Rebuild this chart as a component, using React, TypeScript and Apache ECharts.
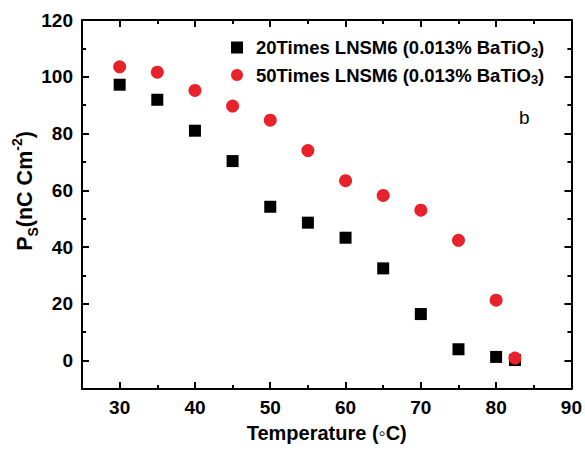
import React, { useEffect, useRef } from "react";
import * as echarts from "echarts";

const temps20 = [30, 35, 40, 45, 50, 55, 60, 65, 70, 75, 80, 82.5];
const ps20 = [97.2, 91.9, 81.0, 70.3, 54.2, 48.6, 43.3, 32.5, 16.4, 4.0, 1.3, 0.2];
const temps50 = [30, 35, 40, 45, 50, 55, 60, 65, 70, 75, 80, 82.5];
const ps50 = [103.5, 101.6, 95.2, 89.7, 84.7, 74.0, 63.4, 58.2, 53.0, 42.4, 21.3, 0.9];
const xMajor = [30, 40, 50, 60, 70, 80, 90];
const yMajor = [0, 20, 40, 60, 80, 100, 120];
const seriesNames = ["20Times LNSM6 (0.013% BaTiO3)", "50Times LNSM6 (0.013% BaTiO3)"];

const FONT = 'Arial, "Liberation Sans", Helvetica, sans-serif';

export default function App() {
  const ref = useRef<HTMLDivElement>(null);
  useEffect(() => {
    if (!ref.current) return;
    const chart = echarts.init(ref.current, undefined, { renderer: "svg" });
    const lineStyle = { color: "#000", width: 2 };
    const tick = { show: true, inside: true, length: 7, lineStyle: { color: "#000", width: 2 } };
    const minor = { show: true, splitNumber: 2, length: 4, lineStyle: { color: "#000", width: 2 } };
    const labelStyle = { color: "#000", fontFamily: FONT, fontWeight: "bold", fontSize: 19, margin: 9 };
    const mkX = (pos: string, labels: boolean, extra: any = {}) => ({
      type: "value",
      position: pos,
      min: 25,
      max: 90,
      splitNumber: 6,
      axisLine: { show: true, onZero: false, lineStyle },
      axisTick: tick,
      minorTick: minor,
      axisLabel: labels ? { show: true, customValues: xMajor, ...labelStyle } : { show: false },
      splitLine: { show: false },
      minorSplitLine: { show: false },
      ...extra,
    });
    const mkY = (pos: string, labels: boolean) => ({
      type: "value",
      position: pos,
      min: -10,
      max: 120,
      splitNumber: 6,
      axisLine: { show: true, onZero: false, lineStyle },
      axisTick: tick,
      minorTick: minor,
      axisLabel: labels ? { show: true, customValues: yMajor, ...labelStyle } : { show: false },
      splitLine: { show: false },
      minorSplitLine: { show: false },
    });
    const legendRich = {
      a: { fontFamily: FONT, fontWeight: "bold", fontSize: 18.5, color: "#000", lineHeight: 22 },
      s: { fontFamily: FONT, fontWeight: "bold", fontSize: 13, color: "#000", verticalAlign: "bottom", lineHeight: 15 },
    };
    chart.setOption({
      animation: false,
      backgroundColor: "#fff",
      grid: { left: 82, right: 13, top: 20, bottom: 63, containLabel: false },
      xAxis: [
        mkX("bottom", true, {
          name: "Temperature (◦C)",
          nameLocation: "middle",
          nameGap: 34,
          nameTextStyle: { fontFamily: FONT, fontWeight: "bold", fontSize: 20, color: "#000" },
        }),
        mkX("top", false),
      ],
      yAxis: [mkY("left", true), mkY("right", false)],
      legend: {
        orient: "vertical",
        left: 226,
        top: 33,
        itemGap: 7,
        itemWidth: 12,
        itemHeight: 12,
        data: [
          { name: seriesNames[0], icon: "rect" },
          { name: seriesNames[1], icon: "circle" },
        ],
        formatter: (name: string) => {
          const base = name.slice(0, name.length - 2);
          return `{a|${base}}{s|3}{a|)}`;
        },
        textStyle: { rich: legendRich, padding: [0, 0, 0, 8] },
      },
      graphic: [
        {
          type: "text",
          x: 25,
          y: 191,
          rotation: Math.PI / 2,
          style: {
            text: "{b|P}{s|S}{b|(nC Cm}{p|-2}{b|)}",
            align: "center",
            verticalAlign: "middle",
            rich: {
              b: { fontFamily: FONT, fontWeight: "bold", fontSize: 21.5, fill: "#000", lineHeight: 30 },
              s: { fontFamily: FONT, fontWeight: "bold", fontSize: 14, fill: "#000", verticalAlign: "bottom", lineHeight: 20 },
              p: { fontFamily: FONT, fontWeight: "bold", fontSize: 14, fill: "#000", verticalAlign: "top", lineHeight: 20 },
            },
          },
        },
        {
          type: "text",
          x: 519,
          y: 108,
          style: { text: "b", fontFamily: FONT, fontSize: 19, fill: "#000" },
        },
      ],
      series: [
        {
          name: seriesNames[0],
          type: "scatter",
          xAxisIndex: 0,
          yAxisIndex: 0,
          symbol: "rect",
          symbolSize: 12,
          itemStyle: { color: "#000", opacity: 1 },
          data: temps20.map((t, i) => [t, ps20[i]]),
        },
        {
          name: seriesNames[1],
          type: "scatter",
          xAxisIndex: 0,
          yAxisIndex: 0,
          symbol: "circle",
          symbolSize: 13,
          itemStyle: { color: "#e8222a", opacity: 1 },
          data: temps50.map((t, i) => [t, ps50[i]]),
        },
      ],
    });
    return () => chart.dispose();
  }, []);
  return <div ref={ref} style={{ width: 585, height: 452, position: "absolute", left: 0, top: 0 }} />;
}
